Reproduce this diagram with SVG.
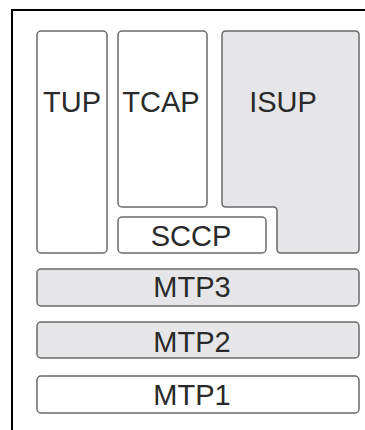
<svg xmlns="http://www.w3.org/2000/svg" width="365" height="430" viewBox="0 0 365 430">
<style>
.box{stroke:#6a6a6a;stroke-width:1.5;fill:#ffffff}
.g{fill:#e6e6e8}
.t{font-family:"Liberation Sans",Arial,sans-serif;font-size:29px;fill:#2a2a2a;text-anchor:middle}
</style>
<rect width="365" height="430" fill="#ffffff"/>
<path d="M12,430 V10 H365" fill="none" stroke="#000" stroke-width="2"/>
<g id="TUP"><rect class="box" x="37" y="31" width="70" height="222" rx="4"/><text class="t" x="72" y="112">TUP</text></g>
<g id="TCAP"><rect class="box" x="118" y="31" width="89" height="176" rx="4"/><text class="t" x="161" y="112">TCAP</text></g>
<g id="ISUP"><path class="box g" d="M226,31 H355 Q359,31 359,35 V249 Q359,253 355,253 H281 Q277,253 277,249 V211 Q277,207 273,207 H226 Q222,207 222,203 V35 Q222,31 226,31 Z"/><text class="t" x="283" y="112">ISUP</text></g>
<g id="SCCP"><rect class="box" x="118" y="217" width="148" height="36" rx="4"/><text class="t" x="191" y="246">SCCP</text></g>
<g id="MTP3"><rect class="box g" x="37" y="269" width="322" height="37" rx="4"/><text class="t" x="192" y="297">MTP3</text></g>
<g id="MTP2"><rect class="box g" x="37" y="322" width="322" height="36" rx="4"/><text class="t" x="192" y="352">MTP2</text></g>
<g id="MTP1"><rect class="box" x="37" y="376" width="322" height="37" rx="4"/><text class="t" x="192" y="405">MTP1</text></g>
<g id="connectors"/>
</svg>
